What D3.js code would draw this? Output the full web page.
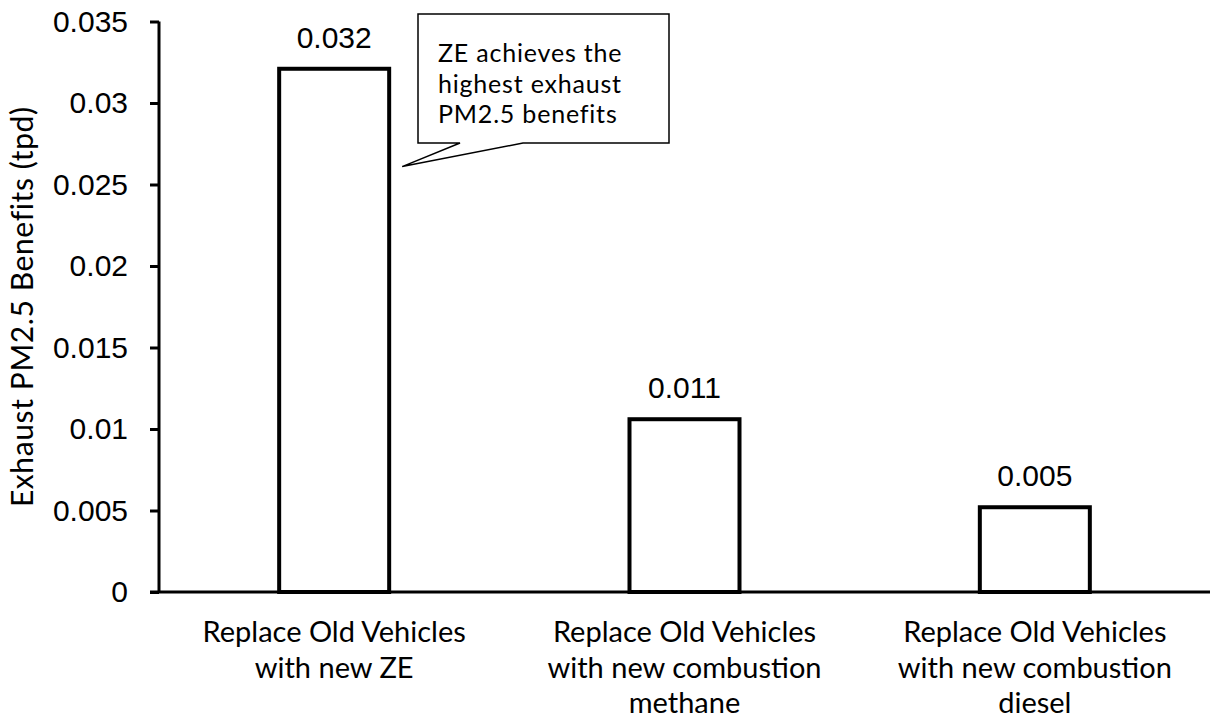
<!DOCTYPE html>
<html>
<head>
<meta charset="utf-8">
<script src="https://cdn.jsdelivr.net/npm/d3@7"></script>
<style>
  body { margin: 0; background: #fff; }
  svg { display: block; }
</style>
</head>
<body>
<div class="container"></div>
<script>
// chart data
const categories = ["ZE", "methane", "diesel"];
const categoryLabels = [
    ["Replace Old Vehicles", "with new ZE"],
    ["Replace Old Vehicles", "with new combustion", "methane"],
    ["Replace Old Vehicles", "with new combustion", "diesel"]
];
const values = [0.0321, 0.0106, 0.0052];
const valueLabels = ["0.032", "0.011", "0.005"];
const yTicks = [0, 0.005, 0.01, 0.015, 0.02, 0.025, 0.03, 0.035];
const yTitle = "Exhaust PM2.5 Benefits (tpd)";
const calloutLines = ["ZE achieves the", "highest exhaust", "PM2.5 benefits"];

const w = 1220;
const h = 721;
const margin = { left: 159, right: 10, top: 21.5, bottom: 129 };

const labelFont = "Lato, 'Open Sans', sans-serif";
const numFont = "'Liberation Sans', Arial, sans-serif";

/* Scales */
const xScale = d3.scaleBand()
    .domain(categories)
    .range([margin.left, w - margin.right])
    .paddingInner(0.686)
    .paddingOuter(0.343);

const yScale = d3.scaleLinear()
    .domain([0, 0.035])
    .range([h - margin.bottom, margin.top]);

const svg = d3.select(".container")
    .append("svg")
    .attr("width", w)
    .attr("height", h);

/* Bars */
svg.selectAll("rect.bar")
    .data(values)
    .enter()
    .append("rect")
    .attr("class", "bar")
    .attr("x", (d, i) => xScale(categories[i]))
    .attr("y", (d) => yScale(d))
    .attr("width", xScale.bandwidth())
    .attr("height", (d) => yScale(0) - yScale(d))
    .attr("fill", "#fff")
    .attr("stroke", "#000")
    .attr("stroke-width", 4);

/* Value labels */
svg.selectAll("text.val")
    .data(values)
    .enter()
    .append("text")
    .attr("class", "val")
    .attr("x", (d, i) => xScale(categories[i]) + xScale.bandwidth() / 2)
    .attr("y", (d) => yScale(d) - 21)
    .attr("text-anchor", "middle")
    .attr("font-family", numFont)
    .attr("font-size", 30)
    .text((d, i) => valueLabels[i]);

/* Y axis */
const yAxis = d3.axisLeft(yScale)
    .tickValues(yTicks)
    .tickFormat((d) => String(+d.toFixed(3)))
    .tickSize(9)
    .tickPadding(22);

const gy = svg.append("g")
    .attr("transform", "translate(" + margin.left + ",0)")
    .call(yAxis);
gy.select(".domain").attr("stroke", "#000").attr("stroke-width", 3)
    .attr("d", "M0," + yScale(0.035) + "V" + yScale(0));
gy.selectAll(".tick line").attr("stroke", "#000").attr("stroke-width", 3);
gy.selectAll(".tick text")
    .attr("font-family", numFont)
    .attr("font-size", 30)
    .attr("fill", "#000");

/* X axis line */
svg.append("line")
    .attr("x1", margin.left - 9)
    .attr("x2", w - margin.right)
    .attr("y1", yScale(0))
    .attr("y2", yScale(0))
    .attr("stroke", "#000")
    .attr("stroke-width", 3);

/* Category labels */
const catG = svg.selectAll("text.cat")
    .data(categoryLabels)
    .enter()
    .append("text")
    .attr("class", "cat")
    .attr("text-anchor", "middle")
    .attr("font-family", labelFont)
    .attr("font-size", 29)
    .attr("fill", "#000");
catG.each(function(lines, i) {
    const cx = xScale(categories[i]) + xScale.bandwidth() / 2;
    d3.select(this).selectAll("tspan")
        .data(lines)
        .enter()
        .append("tspan")
        .attr("x", cx)
        .attr("y", (d, j) => yScale(0) + 50 + j * 35.5)
        .text((d) => d);
});

/* Y title */
svg.append("text")
    .attr("transform", "translate(33," + ((yScale(0) + yScale(0.035)) / 2) + ") rotate(-90)")
    .attr("text-anchor", "middle")
    .attr("font-family", labelFont)
    .attr("font-size", 30)
    .attr("letter-spacing", 0.6)
    .attr("fill", "#000")
    .text(yTitle);

/* Callout box with pointer */
const bx = 418, by = 14, bw = 251, bh = 129;
const tipX = xScale("ZE") + xScale.bandwidth() + 13;
const tipY = yScale(0.0261);
svg.append("path")
    .attr("d", "M" + bx + "," + by + "H" + (bx + bw) + "V" + (by + bh) +
        "H523L" + tipX + "," + tipY + "L460," + (by + bh) + "H" + bx + "Z")
    .attr("fill", "#fff")
    .attr("stroke", "#000")
    .attr("stroke-width", 1.5);

svg.append("g")
    .selectAll("text")
    .data(calloutLines)
    .enter()
    .append("text")
    .attr("font-family", labelFont)
    .attr("font-size", 25)
    .attr("letter-spacing", 0.8)
    .attr("fill", "#000")
    .attr("x", bx + 20)
    .attr("y", (d, i) => 62 + i * 30.7)
    .text((d) => d);
</script>
</body>
</html>
